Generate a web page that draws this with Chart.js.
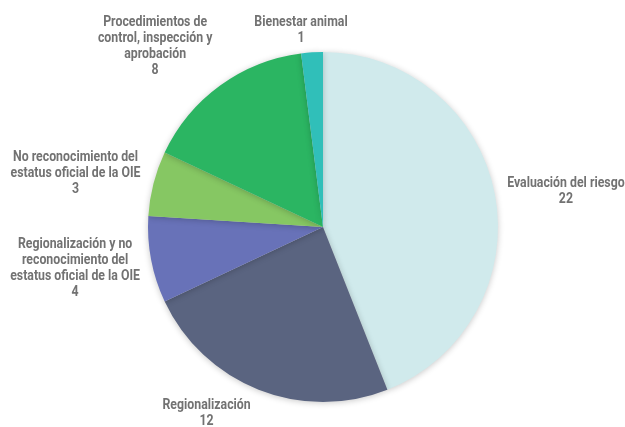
<!DOCTYPE html>
<html>
<head>
<meta charset="utf-8">
<script src="https://cdn.jsdelivr.net/npm/chart.js@4/dist/chart.umd.min.js"></script>
<style>
  html, body { margin: 0; padding: 0; background: #fff; }
  #wrap { width: 625px; height: 427px; }
</style>
</head>
<body>
<div id="wrap"><canvas id="myChart" width="625" height="427"></canvas></div>
<script>
// datos
const categorias = [
  'Evaluación del riesgo',
  'Regionalización',
  'Regionalización y no reconocimiento del estatus oficial de la OIE',
  'No reconocimiento del estatus oficial de la OIE',
  'Procedimientos de control, inspección y aprobación',
  'Bienestar animal'
];
const valores = [22, 12, 4, 3, 8, 1];

// etiquetas en varias líneas (como en el original)
const lineas = [
  ['Evaluación del riesgo'],
  ['Regionalización'],
  ['Regionalización y no', 'reconocimiento del', 'estatus oficial de la OIE'],
  ['No reconocimiento del', 'estatus oficial de la OIE'],
  ['Procedimientos de', 'control, inspección y', 'aprobación'],
  ['Bienestar animal']
];
// desplazamiento de cada etiqueta desde el borde exterior del sector
const desplazamiento = [[71, -3], [-52, 24], [-76, 9], [-78, -10], [-65, -39], [-11, -22]];

const colores = ['#D0EAEC', '#5A6480', '#6872B8', '#86C763', '#2BB562', '#30BFB9'];

const fuente = 'Roboto, "Liberation Sans", sans-serif';
const escalaX = 0.88; // imita la fuente condensada del original

// sombra suave del pastel
const sombra = {
  id: 'sombra',
  beforeDatasetsDraw(chart) {
    const ctx = chart.ctx;
    ctx.save();
    ctx.shadowColor = 'rgba(0,0,0,0.22)';
    ctx.shadowBlur = 6;
    ctx.shadowOffsetY = 1;
  },
  afterDatasetsDraw(chart) {
    chart.ctx.restore();
  }
};

// etiquetas fuera del pastel
const etiquetas = {
  id: 'etiquetas',
  afterDatasetsDraw(chart) {
    const ctx = chart.ctx;
    const meta = chart.getDatasetMeta(0);
    ctx.save();
    ctx.font = 'bold 14px ' + fuente;
    ctx.fillStyle = '#727272';
    ctx.textAlign = 'center';
    ctx.textBaseline = 'middle';
    meta.data.forEach((arc, i) => {
      const p = arc.getProps(['x', 'y', 'startAngle', 'endAngle', 'outerRadius'], true);
      const mid = (p.startAngle + p.endAngle) / 2;
      const ox = p.x + Math.cos(mid) * p.outerRadius + desplazamiento[i][0];
      const oy = p.y + Math.sin(mid) * p.outerRadius + desplazamiento[i][1];
      const txt = lineas[i].concat([String(valores[i])]);
      const lh = 16;
      const y0 = oy - (txt.length - 1) * lh / 2;
      txt.forEach((t, j) => {
        ctx.save();
        ctx.translate(ox, y0 + j * lh);
        ctx.scale(escalaX, 1);
        ctx.fillText(t, 0, 0);
        ctx.restore();
      });
    });
    ctx.restore();
  }
};

const ctx_pie = document.getElementById('myChart').getContext('2d');
const grafico = new Chart(ctx_pie, {
  type: 'pie',
  data: {
    labels: categorias,
    datasets: [{
      data: valores,
      backgroundColor: colores,
      borderWidth: 0
    }]
  },
  options: {
    responsive: false,
    animation: false,
    layout: { padding: { left: 21, right: 0, top: 52, bottom: 25 } },
    plugins: {
      legend: { display: false },
      tooltip: { enabled: false }
    }
  },
  plugins: [sombra, etiquetas]
});
</script>
</body>
</html>
